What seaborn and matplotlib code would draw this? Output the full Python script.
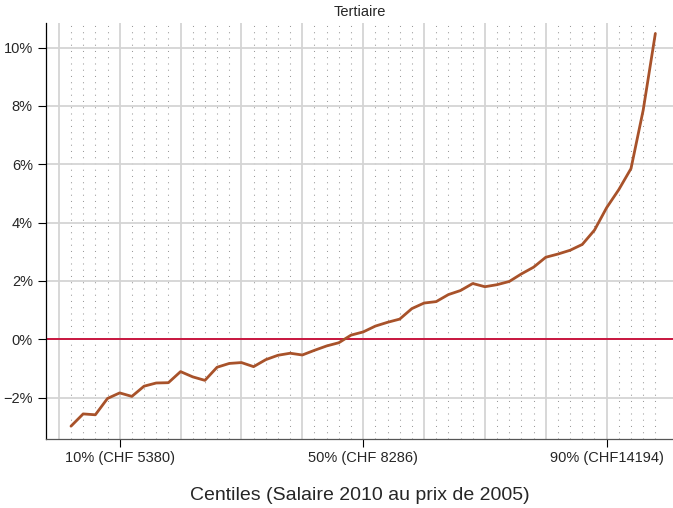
import numpy as np
import pandas as pd
import matplotlib
matplotlib.use("Agg")
import matplotlib.pyplot as plt
import seaborn as sns
from matplotlib.ticker import FixedLocator, FuncFormatter

# centiles (2, 4, ..., 98) and growth in %
centiles = list(range(2, 100, 2))
growth = [-2.98, -2.56, -2.59, -2.03, -1.84, -1.96, -1.61, -1.50, -1.49, -1.11,
          -1.29, -1.41, -0.96, -0.83, -0.80, -0.94, -0.70, -0.55, -0.48, -0.54,
          -0.38, -0.23, -0.12, 0.14, 0.25, 0.45, 0.58, 0.69, 1.05, 1.24,
          1.29, 1.53, 1.67, 1.91, 1.80, 1.87, 1.98, 2.24, 2.47, 2.81,
          2.92, 3.05, 3.25, 3.74, 4.51, 5.13, 5.85, 7.85, 10.48]

xtick_pos = [10, 50, 90]
xtick_labels = ["10% (CHF 5380)", "50% (CHF 8286)", "90% (CHF14194)"]
ytick_pos = [-2, 0, 2, 4, 6, 8, 10]

df = pd.DataFrame({"centile": centiles, "growth": growth})

sns.set_style("white")
plt.rcParams["font.family"] = ["Liberation Sans", "DejaVu Sans"]

fig = plt.figure(figsize=(6.73, 5.08), dpi=100)
ax = fig.add_axes([0.0684, 0.1364, 0.9316, 0.8189])

# grid: solid every 10 centiles, dotted every 2
for v in range(0, 100, 10):
    ax.axvline(v, color="#d4d4d4", lw=1.3, zorder=0)
ax.xaxis.set_minor_locator(FixedLocator([c for c in range(2, 100, 2) if c % 10]))
ax.grid(which="minor", axis="x", color="#9a9a9a", lw=0.75,
        linestyle=(0, (1, 5)), zorder=0)
ax.grid(which="major", axis="y", color="#d4d4d4", lw=1.3, zorder=0)

ax.axhline(0, color="#c8163f", lw=1.4, zorder=2)

sns.lineplot(data=df, x="centile", y="growth", ax=ax, color="#a8522a",
             lw=2.0, zorder=3)

ax.set_xlim(-2.1, 100.9)
ax.set_ylim(-3.41, 10.85)
ax.set_xticks(xtick_pos)
ax.set_xticklabels(xtick_labels)
ax.set_yticks(ytick_pos)
ax.yaxis.set_major_formatter(FuncFormatter(lambda v, p: f"{v:.0f}%".replace("-", "\u2212")))

ax.tick_params(axis="both", which="major", direction="out", length=6, width=0.8,
               color="black", labelsize=10.5, pad=2.5, bottom=True, left=True)
ax.tick_params(axis="y", which="major", pad=3.5)
ax.tick_params(which="minor", length=0)

for s in ["top", "right"]:
    ax.spines[s].set_visible(False)
ax.spines["left"].set_color("black")
ax.spines["left"].set_linewidth(0.9)
ax.spines["bottom"].set_color("#555555")
ax.spines["bottom"].set_linewidth(0.9)

ax.set_xlabel("Centiles (Salaire 2010 au prix de 2005)", fontsize=14, labelpad=16)
ax.set_ylabel("")
ax.set_title("Tertiaire", fontsize=10.5, pad=5)

fig.savefig("out.png", dpi=100)
